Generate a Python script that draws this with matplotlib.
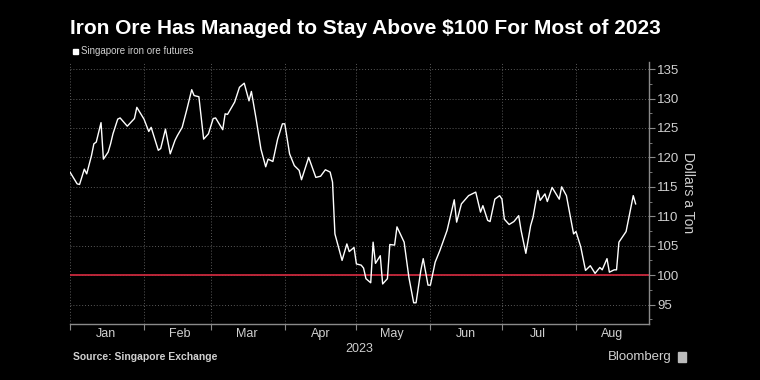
import numpy as np
import pandas as pd
import matplotlib
matplotlib.use("Agg")
import matplotlib.pyplot as plt
import matplotlib.dates as mdates
from matplotlib.patches import Rectangle

# days since 2023-01-01 and price (USD/ton)
days = [0, 3, 4, 6, 7, 9, 10, 11, 13, 14, 16, 17, 18, 20, 21, 24, 27, 28, 31, 33,
        34, 37, 38, 40, 42, 44, 45, 47, 49, 51, 52, 54, 56, 58, 60, 61, 64, 65, 66, 69,
        71, 73, 75, 76, 78, 80, 82, 83, 85, 87, 89, 90, 92, 94, 96, 97, 100, 103, 105, 107,
        109, 110, 111, 114, 116, 117, 119, 120, 122, 123, 124, 126, 127, 128, 130, 131, 133, 134, 136, 137,
        140, 142, 144, 145, 147, 148, 150, 151, 153, 155, 158, 161, 162, 164, 167, 170, 171, 172, 173, 175,
        176, 178, 180, 181, 182, 184, 186, 188, 189, 191, 193, 194, 196, 197, 199, 200, 202, 205, 206, 208,
        211, 212, 214, 216, 218, 220, 222, 223, 225, 226, 228, 229, 230, 233, 236, 237]
price = [117.5, 115.5, 115.4, 118.0, 117.2, 120.3, 122.3, 122.6, 125.9, 119.7, 120.9, 122.3, 124.0, 126.5, 126.7, 125.3, 126.6, 128.5, 126.5, 124.4,
         125.1, 121.2, 121.5, 124.8, 120.6, 122.9, 123.7, 125.1, 128.2, 131.5, 130.5, 130.3, 123.1, 124.0, 126.6, 126.7, 124.7, 127.4, 127.3, 129.4,
         131.9, 132.6, 129.6, 131.2, 126.5, 121.4, 118.4, 119.7, 119.3, 123.1, 125.7, 125.7, 120.6, 118.6, 117.8, 116.2, 120.0, 116.6, 116.8, 117.9,
         117.5, 115.8, 107.0, 102.5, 105.3, 104.0, 104.7, 101.9, 101.7, 101.2, 99.4, 98.7, 105.6, 102.0, 103.3, 98.5, 99.4, 105.2, 105.1, 108.2,
         105.6, 99.6, 95.3, 95.3, 100.8, 102.8, 98.3, 98.3, 102.2, 104.2, 107.6, 112.8, 109.0, 112.1, 113.5, 114.1, 112.4, 110.7, 111.8, 109.3,
         109.1, 112.9, 113.5, 112.9, 109.5, 108.6, 109.1, 110.1, 107.6, 103.7, 108.4, 109.8, 114.4, 112.7, 113.8, 112.5, 114.9, 112.9, 115.0, 113.5,
         107.0, 107.4, 104.8, 100.8, 101.6, 100.3, 101.3, 100.9, 102.8, 100.5, 100.9, 100.9, 105.6, 107.4, 113.5, 112.1]

title = "Iron Ore Has Managed to Stay Above $100 For Most of 2023"
series_name = "Singapore iron ore futures"
y_label = "Dollars a Ton"
source = "Source: Singapore Exchange"
y_ticks = [95, 100, 105, 110, 115, 120, 125, 130, 135]
threshold = 100

start = pd.Timestamp("2023-01-01")
dates = start + pd.to_timedelta(days, unit="D")

plt.rcParams['font.family'] = ['Liberation Sans', 'DejaVu Sans']
bg = "black"
txt = "#d0d0d0"
axis_col = "#8a8a8a"
grid_col = "#5a5a5a"

fig = plt.figure(figsize=(7.6, 3.8), dpi=100, facecolor=bg)
ax = fig.add_axes([70 / 760, 1 - 324 / 380, (649 - 70) / 760, (324 - 62) / 380])
ax.set_facecolor(bg)

ax.axhline(threshold, color="#c8283c", lw=1.3, zorder=2)
ax.plot(dates, price, color="white", lw=1.0, zorder=3)

ax.set_ylim(91.7, 136.2)
ax.set_xlim(start, start + pd.Timedelta(days=242.6))

# y axis on the right
ax.yaxis.tick_right()
ax.set_yticks(y_ticks)
ax.set_yticks(np.arange(92.5, 136, 2.5), minor=True)
ax.tick_params(axis="y", which="major", colors=axis_col, labelcolor=txt, labelsize=9.5,
               length=4, width=0.8, pad=2)
ax.tick_params(axis="y", which="minor", colors=axis_col, length=2.5, width=0.6)

# x axis: ticks at month starts, labels mid-month
ax.xaxis.set_major_locator(mdates.MonthLocator())
ax.xaxis.set_major_formatter(plt.NullFormatter())
ax.xaxis.set_minor_locator(mdates.MonthLocator(bymonthday=16))
ax.xaxis.set_minor_formatter(mdates.DateFormatter("%b"))
ax.tick_params(axis="x", which="major", colors=axis_col, length=4, width=0.8)
ax.tick_params(axis="x", which="minor", length=0, labelcolor=txt, labelsize=9, pad=3)
ax.set_xlabel("2023", color=txt, fontsize=9, labelpad=2)

ax.grid(True, which="major", color=grid_col, linestyle=(0, (1, 2)), lw=0.7, zorder=1)

for side in ["top", "left"]:
    ax.spines[side].set_visible(False)
ax.spines["right"].set_color(axis_col)
ax.spines["bottom"].set_color(axis_col)
ax.spines["right"].set_linewidth(1.0)
ax.spines["bottom"].set_linewidth(1.0)

ax.yaxis.set_label_position("right")
ax.set_ylabel(y_label, color=txt, fontsize=10, rotation=270, labelpad=11)

# titles and notes
fig.text(70 / 760, 1 - 29 / 380, title, color="white", fontsize=15, fontweight="bold",
         va="center", ha="left")
fig.patches.append(Rectangle((73 / 760, 1 - 54 / 380), 5 / 760, 5 / 380,
                             transform=fig.transFigure, color="white"))
fig.text(81 / 760, 1 - 51.5 / 380, series_name, color=txt, fontsize=7, va="center", ha="left")
fig.text(73 / 760, 1 - 357 / 380, source, color=txt, fontsize=7.5, fontweight="bold",
         va="center", ha="left")
fig.text(672 / 760, 1 - 357 / 380, "Bloomberg", color=txt, fontsize=9.5, va="center", ha="right")
fig.patches.append(Rectangle((678 / 760, 1 - 362 / 380), 8 / 760, 10 / 380,
                             transform=fig.transFigure, color="#bbbbbb"))

fig.savefig("out.png", dpi=100, facecolor=bg)
